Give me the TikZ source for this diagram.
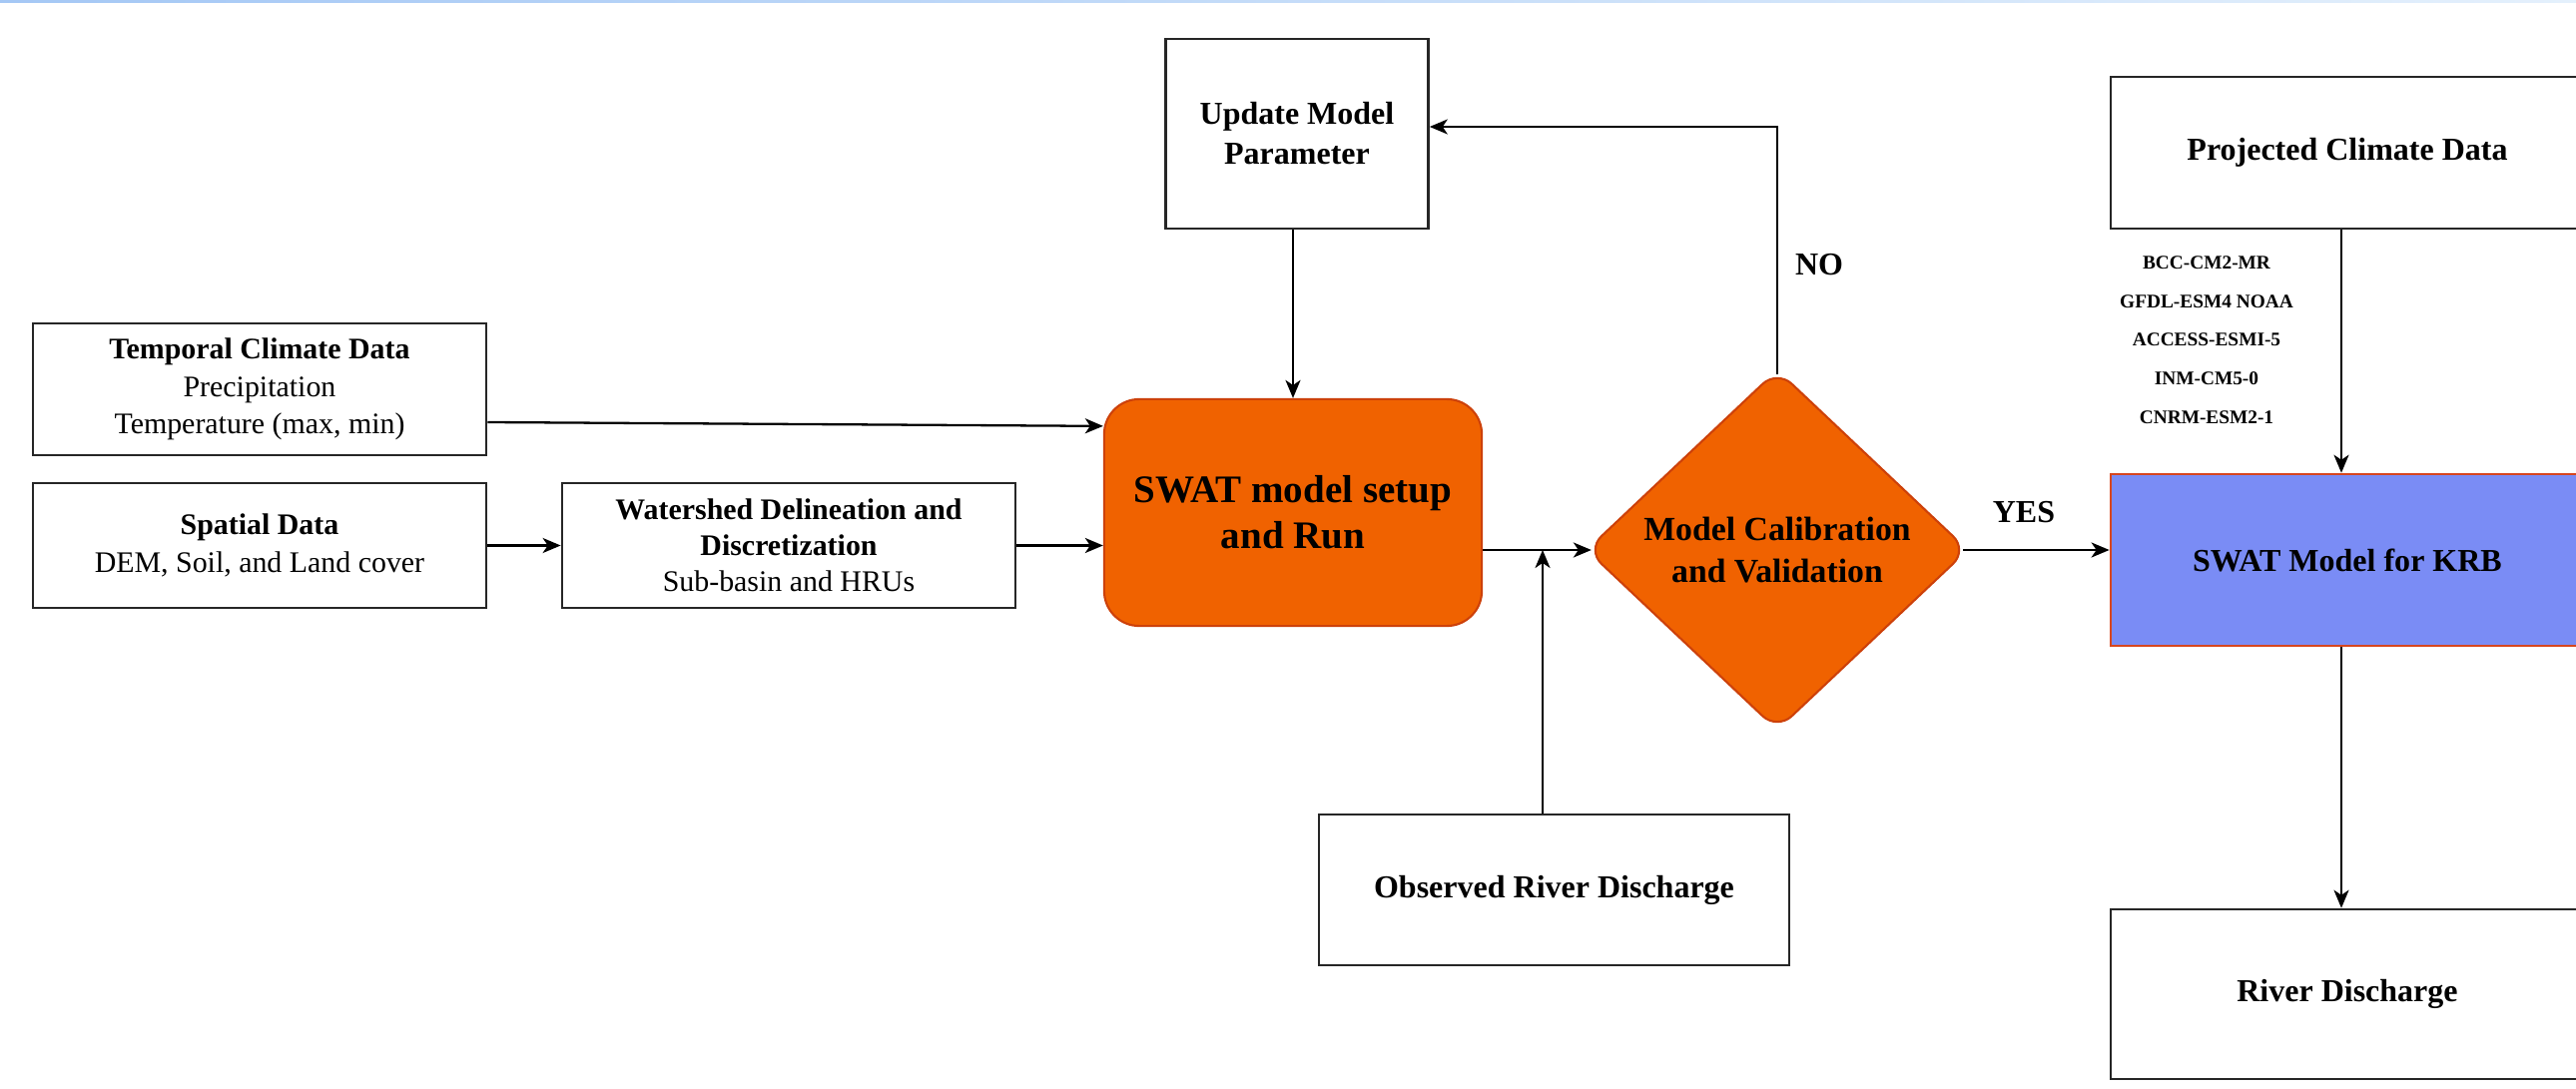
\documentclass[tikz,border=0pt]{standalone}
\usepackage{fontspec}
\setmainfont{Liberation Serif}
\usetikzlibrary{arrows.meta,shapes.geometric,calc}
\definecolor{swatorange}{RGB}{240,98,0}
\definecolor{orangeedge}{RGB}{205,65,10}
\definecolor{krbblue}{RGB}{122,140,245}
\definecolor{krbedge}{RGB}{215,70,30}
\definecolor{barleft}{RGB}{165,200,245}
\definecolor{barright}{RGB}{228,240,252}
\begin{document}
\begin{tikzpicture}[x=0.01cm,y=-0.01cm,
  box/.style={draw=black!85,line width=0.7pt,fill=white,align=center,inner sep=0pt},
  smalltxt/.style={font=\fontsize{8.5}{10.7}\selectfont},
  midtxt/.style={font=\fontsize{9.1}{11.4}\selectfont\bfseries},
  conn/.style={line width=0.65pt,-{Stealth[length=0.18cm,width=0.15cm,inset=0.05cm]}},
  lbl/.style={font=\fontsize{9.1}{11}\selectfont\bfseries,inner sep=0pt}
]
\path[use as bounding box] (0,0) rectangle (2580,1091);
\clip (0,0) rectangle (2580,1091);
\fill[white] (0,0) rectangle (2580,1091);
\shade[left color=barleft,right color=barright] (0,0) rectangle (2580,3);

% left inputs
\node[box,smalltxt,minimum width=4.54cm,minimum height=1.32cm] (temp) at (260,390)
  {\textbf{Temporal Climate Data}\\Precipitation\\Temperature (max, min)};
\node[box,smalltxt,minimum width=4.54cm,minimum height=1.25cm] (spat) at (260,546.5)
  {\textbf{Spatial Data}\\DEM, Soil, and Land cover};
\node[box,font=\fontsize{8.5}{10.3}\selectfont,minimum width=4.54cm,minimum height=1.25cm] (wat) at (790,546.5)
  {\textbf{Watershed Delineation and}\\\textbf{Discretization}\\Sub-basin and HRUs};

% central
\node[draw=orangeedge,fill=swatorange,line width=0.6pt,rounded corners=0.35cm,
  minimum width=3.78cm,minimum height=2.27cm,align=center,inner sep=0pt,
  font=\fontsize{11.1}{13.1}\selectfont\bfseries] (swat) at (1295,513.5)
  {SWAT model setup\\and Run};
\node[box,midtxt,minimum width=2.63cm,minimum height=1.90cm] (upd) at (1299,134)
  {Update Model\\Parameter};
\node[diamond,draw=orangeedge,fill=swatorange,line width=0.6pt,rounded corners=0.2cm,
  minimum width=3.82cm,minimum height=3.61cm,inner sep=0pt,aspect=1.05,align=center,
  font=\fontsize{9.6}{12}\selectfont\bfseries] (dia) at (1780,551)
  {Model Calibration\\and Validation};
\node[box,midtxt,minimum width=4.71cm,minimum height=1.51cm] (obs) at (1556.5,891.5)
  {Observed River Discharge};

% right column
\node[box,midtxt,minimum width=4.74cm,minimum height=1.52cm] (proj) at (2351,153)
  {Projected Climate Data};
\node[draw=krbedge,fill=krbblue,line width=0.7pt,inner sep=0pt,align=center,midtxt,
  minimum width=4.74cm,minimum height=1.72cm] (krb) at (2351,561)
  {SWAT Model for KRB};
\node[box,midtxt,minimum width=4.74cm,minimum height=1.70cm] (riv) at (2351,996)
  {River Discharge};
\node[align=center,inner sep=0pt,font=\fontsize{5.5}{11}\selectfont\bfseries] (gcm) at (2210,340.5)
  {BCC-CM2-MR\\GFDL-ESM4 NOAA\\ACCESS-ESMI-5\\INM-CM5-0\\CNRM-ESM2-1};

% labels
\node[lbl] (no) at (1822,265) {NO};
\node[lbl] (yes) at (2027,513) {YES};

% connectors
\coordinate (j) at (1545,551);
\draw[conn] ($(temp.east)+(0,33)$) -- ($(swat.north west)+(0,28)$);
\draw[conn] (spat.east) -- (wat.west);
\draw[conn] (wat.east) -- (wat.east -| swat.west);
\draw[conn] (upd.south -| swat.north) -- (swat.north);
\draw[conn] (swat.east |- j) -- ($(dia.west)+(6,0)$);
\draw[conn] (obs.north -| j) -- (j);
\draw[conn] ($(dia.north)+(0,6)$) |- ($(upd.east)+(0,-7)$);
\draw[conn] ($(dia.east)+(-6,0)$) -- (dia.east -| krb.west);
\draw[conn] ($(proj.south)+(-6,0)$) -- ($(krb.north)+(-6,0)$);
\draw[conn] ($(krb.south)+(-6,0)$) -- ($(riv.north)+(-6,0)$);
\end{tikzpicture}
\end{document}
